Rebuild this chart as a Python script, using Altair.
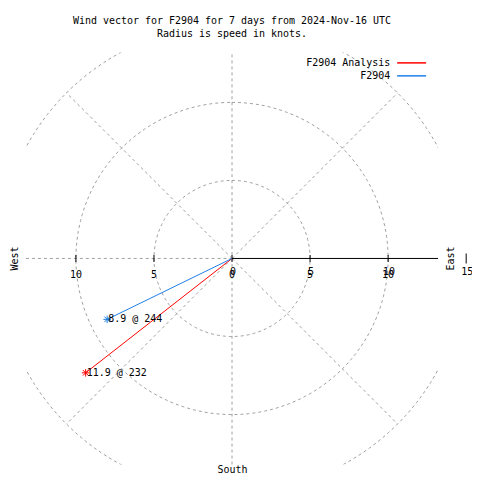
import altair as alt
import pandas as pd

# ---- data ----
names = ["F2904 Analysis", "F2904"]
speeds = [11.9, 8.9]          # knots
directions = [232, 244]       # degrees
colors = ["#ff0000", "#1e7fe8"]

grid_radii = [5, 10, 15]
spoke_angles = [45, 135, 225, 315]
x_tick_values = [-10, -5, 0, 5, 10]
r_tick_values = [0, 5, 10, 15]
title_lines = ["Wind vector for F2904 for 7 days from 2024-Nov-16 UTC",
               "Radius is speed in knots."]

LIM = 13.2
FONT = "DejaVu Sans Mono"
GRID = "#a0a0a0"
DASH = [3, 3]

xs = alt.Scale(domain=[-LIM, LIM], nice=False, zero=False)
ys = alt.Scale(domain=[-LIM, LIM], nice=False, zero=False)


def X(f):
    return alt.X(f, type="quantitative", scale=xs, axis=None)


def Y(f):
    return alt.Y(f, type="quantitative", scale=ys, axis=None)


one = pd.DataFrame({"z": [0]})

# grid circles
circles = alt.Chart(pd.DataFrame({"r": grid_radii})).transform_calculate(
    deg="sequence(0, 361, 2)"
).transform_flatten(["deg"]).transform_calculate(
    x="datum.r*sin(datum.deg*PI/180)", y="datum.r*cos(datum.deg*PI/180)"
).mark_line(clip=True, color=GRID, strokeDash=DASH, strokeWidth=1).encode(
    x=X("x"), y=Y("y"), order="deg:Q", detail="r:N"
)

# diagonal spokes
spokes = alt.Chart(pd.DataFrame({"a": spoke_angles})).transform_calculate(
    z="0",
    x2="15*sin(datum.a*PI/180)", y2="15*cos(datum.a*PI/180)"
).mark_rule(clip=True, color=GRID, strokeDash=DASH, strokeWidth=1).encode(
    x=X("z"), y=Y("z"), x2="x2:Q", y2="y2:Q"
)

# vertical dashed axis
vline = alt.Chart(one).transform_calculate(
    lo=f"{-LIM}", hi=f"{LIM}"
).mark_rule(color=GRID, strokeDash=DASH, strokeWidth=1).encode(
    x=X("z"), y=Y("lo"), y2="hi:Q"
)

# horizontal dashed west half
hline_w = alt.Chart(one).transform_calculate(
    lo=f"{-LIM}"
).mark_rule(color=GRID, strokeDash=DASH, strokeWidth=1).encode(
    x=X("lo"), x2="z:Q", y=Y("z")
)

# black r-axis to the east
hline_e = alt.Chart(one).transform_calculate(
    hi=f"{LIM}"
).mark_rule(color="black", strokeWidth=1).encode(
    x=X("z"), x2="hi:Q", y=Y("z")
)

ticks_df = pd.DataFrame({"v": x_tick_values})
ticks = alt.Chart(ticks_df).transform_calculate(z="0").mark_tick(
    orient="vertical", size=7, thickness=1, color="black", opacity=1
).encode(x=X("v"), y=Y("z"))

tick_labels = alt.Chart(ticks_df).transform_calculate(
    z="0", lbl="'' + abs(datum.v)"
).mark_text(font=FONT, fontSize=10, color="black", dy=17, baseline="middle").encode(
    x=X("v"), y=Y("z"), text="lbl:N"
)

r_df = pd.DataFrame({"v": r_tick_values})
r_labels = alt.Chart(r_df).transform_calculate(
    z="0", lbl="'' + datum.v"
).mark_text(font=FONT, fontSize=10, color="black", dy=14, dx=1, baseline="middle").encode(
    x=X("v"), y=Y("z"), text="lbl:N"
)

r_tick = alt.Chart(pd.DataFrame({"v": r_tick_values[-1:]})).transform_calculate(
    z="0"
).mark_tick(orient="vertical", size=10, thickness=1, color="black", opacity=1).encode(
    x=X("v"), y=Y("z")
)

# direction labels
west = alt.Chart(one).mark_text(font=FONT, fontSize=10, color="black", angle=270,
                                 baseline="middle", align="center").encode(
    x=alt.value(-11), y=alt.value(206.5), text=alt.value("West"))
east = alt.Chart(one).mark_text(font=FONT, fontSize=10, color="black", angle=270,
                                 baseline="middle", align="center").encode(
    x=alt.value(426), y=alt.value(206.5), text=alt.value("East"))
south = alt.Chart(one).mark_text(font=FONT, fontSize=10, color="black",
                                  baseline="middle", align="center").encode(
    x=alt.value(207), y=alt.value(418), text=alt.value("South"))

# wind vectors
vec_df = pd.DataFrame({"name": names, "speed": speeds, "dir": directions})
color_scale = alt.Scale(domain=names, range=colors)
vec_base = alt.Chart(vec_df).transform_calculate(
    z="0",
    ex="datum.speed*sin(datum.dir*PI/180)",
    ey="datum.speed*cos(datum.dir*PI/180)",
    lbl="format(datum.speed, '.1f') + ' @ ' + datum.dir",
)
vec_lines = vec_base.mark_rule(strokeWidth=1).encode(
    x=X("z"), y=Y("z"), x2="ex:Q", y2="ey:Q",
    color=alt.Color("name:N", scale=color_scale, legend=None),
)
star = "M-1,0L1,0M0,-1L0,1M-0.75,-0.75L0.75,0.75M-0.75,0.75L0.75,-0.75"
vec_pts = vec_base.mark_point(shape=star, filled=False, size=56, strokeWidth=1, opacity=1).encode(
    x=X("ex"), y=Y("ey"),
    color=alt.Color("name:N", scale=color_scale, legend=None),
)
vec_txt = vec_base.mark_text(font=FONT, fontSize=10, color="black", align="left",
                             baseline="middle", dx=1).encode(
    x=X("ex"), y=Y("ey"), text="lbl:N")

# manual legend (gnuplot style: label then line sample)
legend_layers = []
for i, (nm, col) in enumerate(zip(names, colors)):
    yy = 10.5 + 13 * i
    legend_layers.append(
        alt.Chart(one).mark_text(font=FONT, fontSize=10, color="black", align="right",
                                 baseline="middle").encode(
            x=alt.value(365), y=alt.value(yy), text=alt.value(nm)))
    legend_layers.append(
        alt.Chart(one).mark_rule(color=col, strokeWidth=1.5).encode(
            x=alt.value(372), x2=alt.value(401), y=alt.value(yy)))

chart = alt.layer(
    circles, spokes, vline, hline_w, hline_e, ticks, r_tick,
    tick_labels, r_labels, west, east, south,
    vec_lines, vec_pts, vec_txt, *legend_layers
).properties(
    width=413, height=413,
    title=alt.TitleParams(text=title_lines, font=FONT, fontSize=10, fontWeight="normal",
                          color="black", anchor="middle", frame="group", offset=13,
                          lineHeight=13),
    autosize=alt.AutoSizeParams(type="none"),
    padding={"left": 18, "top": 44, "right": 34, "bottom": 12},
).configure_view(stroke=None)

chart.save("out.html", embed_options={"renderer": "svg", "actions": False})
